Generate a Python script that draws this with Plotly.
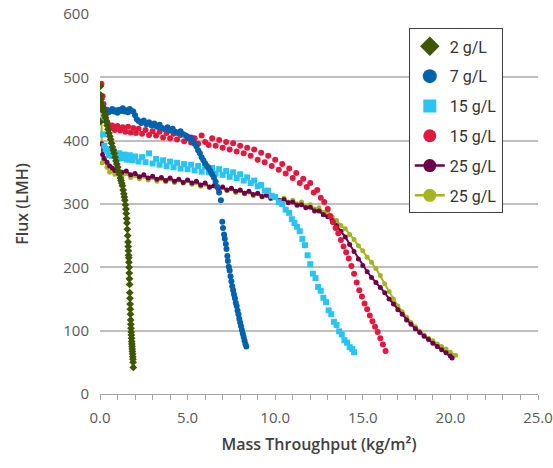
import plotly.graph_objects as go

# ---- Flux decline vs. mass throughput, one series per feed concentration ----

# 2 g/L
x_2 = [0.01, 0.03, 0.04, 0.05, 0.06, 0.08, 0.12, 0.16, 0.2, 0.24, 0.28, 0.32, 0.36, 0.41, 0.46,
       0.51, 0.56, 0.61, 0.66, 0.71, 0.76, 0.81, 0.86, 0.91, 0.96, 1.01, 1.06, 1.11, 1.16, 1.2,
       1.24, 1.28, 1.32, 1.36, 1.39, 1.42, 1.45, 1.48, 1.5, 1.52, 1.54, 1.56, 1.58, 1.6, 1.61,
       1.62, 1.63, 1.64, 1.65, 1.66, 1.67, 1.68, 1.69, 1.7, 1.71, 1.72, 1.73, 1.74, 1.75, 1.76,
       1.77, 1.78, 1.79, 1.8, 1.81, 1.82, 1.83, 1.84, 1.85, 1.86, 1.87, 1.88, 1.89, 1.9]
flux_2 = [430, 486, 472, 465, 460, 455, 452, 451, 448, 446, 440, 436, 430, 424, 418,
          412, 407, 402, 396, 390, 385, 380, 374, 368, 363, 358, 352, 347, 341, 337,
          333, 329, 322, 316, 311, 306, 299, 292, 285, 277, 270, 260, 250, 240, 233,
          226, 219, 215, 208, 200, 191, 182, 173, 160, 151, 142, 134, 126, 117, 110,
          104, 98, 93, 88, 83, 79, 75, 71, 67, 63, 59, 55, 50, 42]

# 7 g/L
x_7 = [0.1, 0.15, 0.2, 0.3, 0.4, 0.5, 0.6, 0.7, 0.8, 0.9, 1.0, 1.1, 1.2, 1.3, 1.4, 1.5, 1.6, 1.7,
       1.8, 1.9, 2.0, 2.1, 2.2, 2.35, 2.5, 2.65, 2.8, 2.95, 3.1, 3.25, 3.4, 3.55, 3.7, 3.85, 4.0,
       4.15, 4.3, 4.45, 4.6, 4.75, 4.9, 5.05, 5.2, 5.3, 5.4, 5.5, 5.6, 5.7, 5.8, 5.9, 6.0, 6.1,
       6.2, 6.3, 6.4, 6.5, 6.6, 6.7, 6.8, 6.9, 6.98, 7.02, 7.08, 7.12, 7.18, 7.22, 7.27, 7.3,
       7.35, 7.4, 7.45, 7.5, 7.55, 7.6, 7.65, 7.7, 7.75, 7.8, 7.85, 7.9, 7.95, 8.0, 8.05, 8.1,
       8.15, 8.2, 8.25, 8.3, 8.35]
flux_7 = [455, 448, 452, 446, 449, 445, 447, 450, 446, 448, 444, 449, 447, 451, 446, 448, 445, 450,
          447, 446, 440, 434, 431, 428, 432, 426, 429, 424, 427, 422, 425, 420, 418, 421, 416,
          419, 414, 412, 415, 410, 408, 404, 405, 399, 395, 391, 385, 380, 374, 369, 364, 360,
          357, 352, 347, 342, 335, 327, 318, 306, 272, 262, 252, 245, 237, 229, 218, 210,
          201, 195, 186, 178, 170, 164, 157, 151, 144, 139, 132, 126, 119, 113, 107, 101,
          95, 90, 84, 79, 75]

# 15 g/L (squares)
x_15a = [0.08, 0.12, 0.18, 0.25, 0.32, 0.4, 0.5, 0.6, 0.7, 0.8, 0.95, 1.1, 1.25, 1.4, 1.55, 1.7,
         1.85, 2.0, 2.2, 2.4, 2.6, 2.8, 3.0, 3.2, 3.4, 3.6, 3.8, 4.0, 4.2, 4.4, 4.6, 4.8, 5.0,
         5.2, 5.4, 5.6, 5.8, 6.0, 6.2, 6.4, 6.6, 6.8, 7.0, 7.2, 7.4, 7.6, 7.8, 8.0, 8.2, 8.4,
         8.6, 8.8, 9.0, 9.2, 9.4, 9.6, 9.8, 10.0, 10.2, 10.4, 10.6, 10.8, 10.95, 11.1, 11.25,
         11.4, 11.55, 11.7, 11.85, 12.0, 12.15, 12.3, 12.45, 12.6, 12.75, 12.9, 13.05, 13.2,
         13.35, 13.5, 13.65, 13.8, 13.95, 14.1, 14.25, 14.4, 14.5]
flux_15a = [452, 432, 410, 392, 387, 384, 377, 385, 376, 383, 374, 380, 372, 378, 370, 377,
            369, 375, 367, 374, 366, 380, 364, 371, 362, 369, 360, 367, 358, 365, 356, 363, 355,
            362, 353, 360, 351, 359, 350, 357, 348, 355, 346, 352, 343, 350, 341, 347, 337, 342,
            333, 337, 328, 330, 321, 321, 313, 311, 303, 300, 291, 286, 276, 270, 264,
            257, 245, 235, 219, 205, 190, 183, 169, 163, 152, 145, 132, 126,
            114, 109, 99, 94, 85, 81, 74, 71, 66]

# 15 g/L (circles)
x_15b = [0.08, 0.15, 0.2, 0.25, 0.3, 0.4, 0.5, 0.6, 0.7, 0.85, 1.0, 1.15, 1.3, 1.45, 1.6, 1.75,
         1.9, 2.05, 2.2, 2.4, 2.6, 2.8, 3.0, 3.2, 3.4, 3.6, 3.8, 4.0, 4.2, 4.4, 4.6, 4.8, 5.0,
         5.2, 5.4, 5.6, 5.8, 6.0, 6.2, 6.4, 6.6, 6.8, 7.0, 7.2, 7.4, 7.6, 7.8, 8.0, 8.2, 8.4,
         8.6, 8.8, 9.0, 9.2, 9.4, 9.6, 9.8, 10.0, 10.2, 10.4, 10.6, 10.8, 11.0, 11.2, 11.4,
         11.6, 11.8, 12.0, 12.2, 12.4, 12.6, 12.8, 13.0, 13.15, 13.3, 13.45, 13.6, 13.75, 13.9,
         14.05, 14.2, 14.35, 14.5, 14.65, 14.8, 14.95, 15.1, 15.25, 15.4, 15.55, 15.7, 15.85,
         16.0, 16.15, 16.3]
flux_15b = [490, 470, 458, 449, 440, 430, 425, 420, 424, 417, 423, 416, 421, 414, 422, 413,
            420, 412, 419, 411, 417, 409, 415, 408, 414, 405, 412, 404, 411, 402, 409, 399, 406,
            397, 404, 395, 408, 398, 393, 404, 392, 401, 389, 398, 386, 396, 383, 392, 380, 389,
            376, 386, 370, 381, 366, 376, 360, 370, 354, 363, 348, 356, 341, 349, 333,
            340, 327, 333, 318, 322, 310, 303, 292, 281, 271, 262, 254, 243, 233,
            224, 214, 202, 190, 176, 164, 154, 143, 134, 124, 115, 106, 98,
            88, 78, 68]

# 25 g/L (first run)
x_25a = [0.1, 0.15, 0.25, 0.4, 0.55, 0.7, 0.85, 1.0, 1.25, 1.5, 1.75, 2.0, 2.25, 2.5, 2.75, 3.0,
         3.25, 3.5, 3.75, 4.0, 4.25, 4.5, 4.75, 5.0, 5.25, 5.5, 5.75, 6.0, 6.25, 6.5, 6.75, 7.0,
         7.25, 7.5, 7.75, 8.0, 8.25, 8.5, 8.75, 9.0, 9.25, 9.5, 9.75, 10.0, 10.25, 10.5, 10.75,
         11.0, 11.25, 11.5, 11.75, 12.0, 12.25, 12.5, 12.75, 13.0, 13.25, 13.5, 13.75, 14.0,
         14.25, 14.5, 14.75, 15.0, 15.25, 15.5, 15.75, 16.0, 16.25, 16.5, 16.75, 17.0, 17.25,
         17.5, 17.75, 18.0, 18.25, 18.5, 18.75, 19.0, 19.25, 19.5, 19.75, 20.0, 20.1]
flux_25a = [395, 378, 372, 366, 360, 357, 353, 355, 350, 352, 346, 348, 343, 346, 341, 344,
            339, 342, 337, 341, 336, 339, 334, 338, 333, 336, 330, 333, 327, 329, 324, 327,
            322, 325, 320, 322, 317, 320, 315, 317, 312, 314, 309, 311, 305, 307, 302,
            303, 298, 299, 294, 295, 289, 289, 283, 280, 274, 266, 257, 248,
            236, 225, 213, 203, 193, 184, 176, 168, 160, 150, 142, 133, 126,
            117, 110, 103, 97, 91, 86, 80, 75, 70, 65, 60, 57]

# 25 g/L (second run)
x_25b = [0.08, 0.1, 0.12, 0.25, 0.4, 0.55, 0.7, 0.85, 1.0, 1.25, 1.5, 1.75, 2.0, 2.25, 2.5, 2.75,
         3.0, 3.25, 3.5, 3.75, 4.0, 4.25, 4.5, 4.75, 5.0, 5.25, 5.5, 5.75, 6.0, 6.25, 6.5, 6.75,
         7.0, 7.25, 7.5, 7.75, 8.0, 8.25, 8.5, 8.75, 9.0, 9.25, 9.5, 9.75, 10.0, 10.25, 10.5,
         10.75, 11.0, 11.25, 11.5, 11.75, 12.0, 12.25, 12.5, 12.75, 13.0, 13.25, 13.5, 13.75,
         14.0, 14.25, 14.5, 14.75, 15.0, 15.25, 15.5, 15.75, 16.0, 16.25, 16.5, 16.75, 17.0,
         17.25, 17.5, 17.75, 18.0, 18.25, 18.5, 18.75, 19.0, 19.25, 19.5, 19.75, 20.0, 20.3]
flux_25b = [452, 395, 365, 370, 358, 350, 352, 347, 350, 345, 348, 342, 345, 340, 344, 338,
            342, 336, 340, 335, 339, 334, 338, 333, 337, 331, 334, 328, 331, 326, 329, 323,
            326, 321, 324, 318, 321, 316, 319, 313, 316, 311, 314, 309, 312, 306, 309,
            303, 306, 300, 303, 296, 299, 292, 294, 287, 286, 279, 274, 266,
            261, 252, 244, 234, 226, 216, 208, 198, 187, 174, 162, 150, 139,
            130, 121, 113, 106, 99, 93, 88, 84, 79, 75, 71, 66, 61]

TEXT = "#404040"
TICK_TEXT = "#595959"
FONT = "Open Sans"

# (name, x, y, colour, plot symbol, plot size, legend size, with line, legend rank)
series = [
    ("25 g/L", x_25b, flux_25b, "#A5B521", "circle", 5, 13, True, 6),
    ("25 g/L", x_25a, flux_25a, "#6D0048", "circle", 5, 13, True, 5),
    ("15 g/L", x_15a, flux_15a, "#2BC4F2", "square", 6, 13, False, 3),
    ("15 g/L", x_15b, flux_15b, "#E01A3F", "circle", 6, 13, False, 4),
    ("7 g/L", x_7, flux_7, "#0062AD", "circle", 6, 14, False, 2),
    ("2 g/L", x_2, flux_2, "#3F5602", "diamond", 6, 15, False, 1),
]

fig = go.Figure()

# Data traces, drawn back to front, kept out of the legend
for name, xs, ys, color, sym, size, _, with_line, _rank in series:
    fig.add_trace(go.Scatter(
        x=xs, y=ys, name=name, showlegend=False,
        mode="lines+markers" if with_line else "markers",
        line=dict(color=color, width=2),
        marker=dict(color=color, size=size, symbol=sym)))

# Legend keys with larger symbols, ordered by concentration
for name, _, _, color, sym, _, lsize, with_line, rank in series:
    fig.add_trace(go.Scatter(
        x=[None], y=[None], name=name, legendrank=rank, legendgroup=f"k{rank}",
        mode="lines+markers" if with_line else "markers",
        line=dict(color=color, width=2.5),
        marker=dict(color=color, size=lsize, symbol=sym)))

fig.update_layout(
    width=553, height=468,
    margin=dict(l=100, r=15, t=14, b=74),
    paper_bgcolor="white", plot_bgcolor="white",
    font=dict(family=FONT, color=TEXT),
    showlegend=True,
    legend=dict(
        x=0.705, y=0.962, xanchor="left", yanchor="top",
        bgcolor="white", bordercolor="#404040", borderwidth=1,
        font=dict(size=16, color="#333333", family="Roboto"),
        itemsizing="trace", tracegroupgap=6,
        entrywidth=75, entrywidthmode="pixels",
    ),
    xaxis=dict(
        range=[0, 25], tickvals=[0, 5, 10, 15, 20, 25], tickformat=".1f",
        showgrid=False, zeroline=False, automargin=False,
        showline=True, linecolor="#A6A6A6", linewidth=1,
        ticks="outside", ticklen=5, tickcolor="#A6A6A6", ticklabelstandoff=5,
        minor=dict(dtick=1, ticks="outside", ticklen=5, tickcolor="#A6A6A6"),
        tickfont=dict(size=15, color=TICK_TEXT),
        title=dict(text="Mass Throughput (kg/m²)", standoff=12,
                   font=dict(size=16, color=TEXT, weight=600)),
    ),
    yaxis=dict(
        range=[0, 600], dtick=100, automargin=False,
        showgrid=True, gridcolor="#BFBFBF", gridwidth=1.5,
        zeroline=False, showline=False, ticks="",
        tickfont=dict(size=15, color=TICK_TEXT), ticklabelstandoff=10,
        title=dict(text="Flux (LMH)", standoff=30,
                   font=dict(size=16, color=TEXT, weight=600)),
    ),
)

fig.write_html("out.html")
